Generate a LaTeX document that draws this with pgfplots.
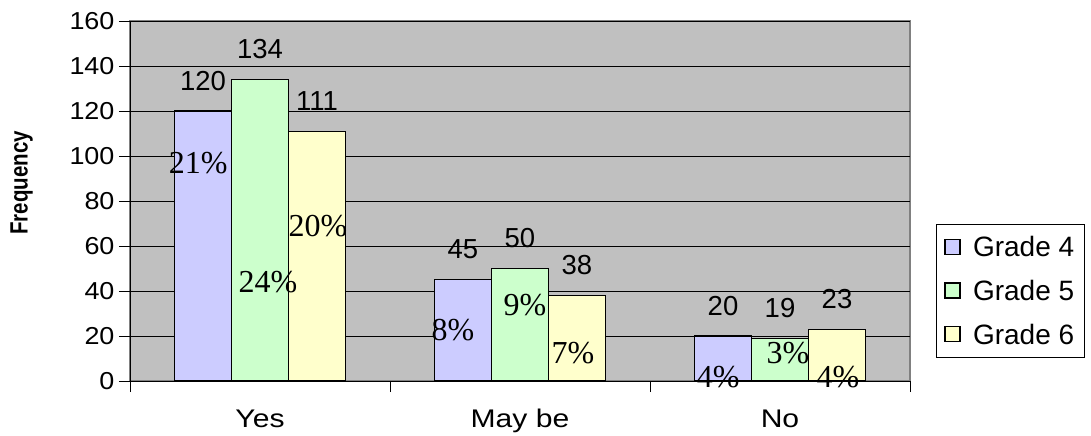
\documentclass[border=0pt]{standalone}
\usepackage{fontspec}
\setmainfont{Liberation Sans}
\newfontfamily\timesfont{Liberation Serif}
\usepackage{graphicx}
\usepackage{pgfplots}
\pgfplotsset{compat=1.18}

\definecolor{gfour}{HTML}{CCCCFF}
\definecolor{gfive}{HTML}{CCFFCC}
\definecolor{gsix}{HTML}{FFFFCC}
\definecolor{plotbg}{HTML}{C0C0C0}
\definecolor{framegray}{HTML}{808080}

\newcommand\ticksans{\fontsize{24.5bp}{28bp}\selectfont}
\newcommand\catsans{\fontsize{25.5bp}{28bp}\selectfont}
\newcommand\valsans{\fontsize{27.5bp}{30bp}\selectfont}
\newcommand\legsans{\fontsize{28bp}{30bp}\selectfont}
\newcommand\pct{\timesfont\fontsize{32bp}{34bp}\selectfont}

\begin{document}
\begin{tikzpicture}
\begin{axis}[
  scale only axis,
  width=780bp, height=360bp,
  ybar=0pt, bar width=57bp,
  xmin=-0.5, xmax=2.5, ymin=0, ymax=160,
  axis background/.style={fill=plotbg, draw=framegray, line width=1.6bp},
  axis x line*=bottom, axis y line*=left,
  axis line style={black, line width=0.9bp, -},
  tick align=outside,
  tick style={black, line width=0.9bp},
  major tick length=11bp,
  xtick={-0.5,0.5,1.5,2.5}, xticklabels={},
  extra x ticks={0,1,2},
  extra x tick labels={\scalebox{1.18}[1]{Yes},\scalebox{1.18}[1]{May be},\scalebox{1.18}[1]{No}},
  extra x tick style={major tick length=0pt, grid=none,
    xticklabel style={font=\catsans, yshift=-25bp}},
  ytick={0,20,...,160},
  yticklabel={\scalebox{1.1}[1]{\pgfmathprintnumber{\tick}}},
  yticklabel style={font=\ticksans, xshift=-1bp},
  ymajorgrids, grid style={black, line width=0.8bp},
  /pgf/number format/assume math mode=true,
  ylabel={\scalebox{0.82}[1]{\textbf{Frequency}}},
  ylabel style={font=\fontsize{25bp}{27bp}\selectfont, at={(axis description cs:-0.139,0.55)}, anchor=center},
  nodes near coords,
  nodes near coords style={font=\valsans, inner sep=0pt, anchor=south, yshift=20bp},
  clip=false,
  legend style={at={(rel axis cs:1,0)}, anchor=south west, xshift=26bp, yshift=23bp,
    font=\legsans, draw=black, line width=0.8bp, row sep=18bp,
    inner xsep=8bp, inner ysep=10bp},
  legend cell align=left,
  legend image code/.code={%
    \draw[#1, draw=black, line width=1.3bp] (0bp,-7bp) rectangle (15bp,8bp);
    \path[draw=none, fill=none] (15bp,0bp) -- (26bp,0bp);},
]
\addplot[fill=gfour, draw=black, line width=1.3bp] coordinates {(0,120) (1,45) (2,20)};
\addplot[fill=gfive, draw=black, line width=1.3bp] coordinates {(0,134) (1,50) (2,19)};
\addplot[fill=gsix, draw=black, line width=1.3bp] coordinates {(0,111) (1,38) (2,23)};
\legend{Grade 4, Grade 5, Grade 6}

% share of all responses, written inside the bars
\node[font=\pct] at (axis cs:-0.238,97) {21\%};
\node[font=\pct] at (axis cs:0.031,44) {24\%};
\node[font=\pct] at (axis cs:0.223,69) {20\%};
\node[font=\pct] at (axis cs:0.742,22.7) {8\%};
\node[font=\pct] at (axis cs:1.019,33.8) {9\%};
\node[font=\pct] at (axis cs:1.204,12.4) {7\%};
\node[font=\pct] at (axis cs:1.762,1.8) {4\%};
\node[font=\pct] at (axis cs:2.031,12.4) {3\%};
\node[font=\pct] at (axis cs:2.223,1.8) {4\%};
\end{axis}
\pgfresetboundingbox
\path ([xshift=-130bp,yshift=-55bp]current axis.south west) rectangle ([xshift=181bp,yshift=21bp]current axis.north east);
\end{tikzpicture}
\end{document}
